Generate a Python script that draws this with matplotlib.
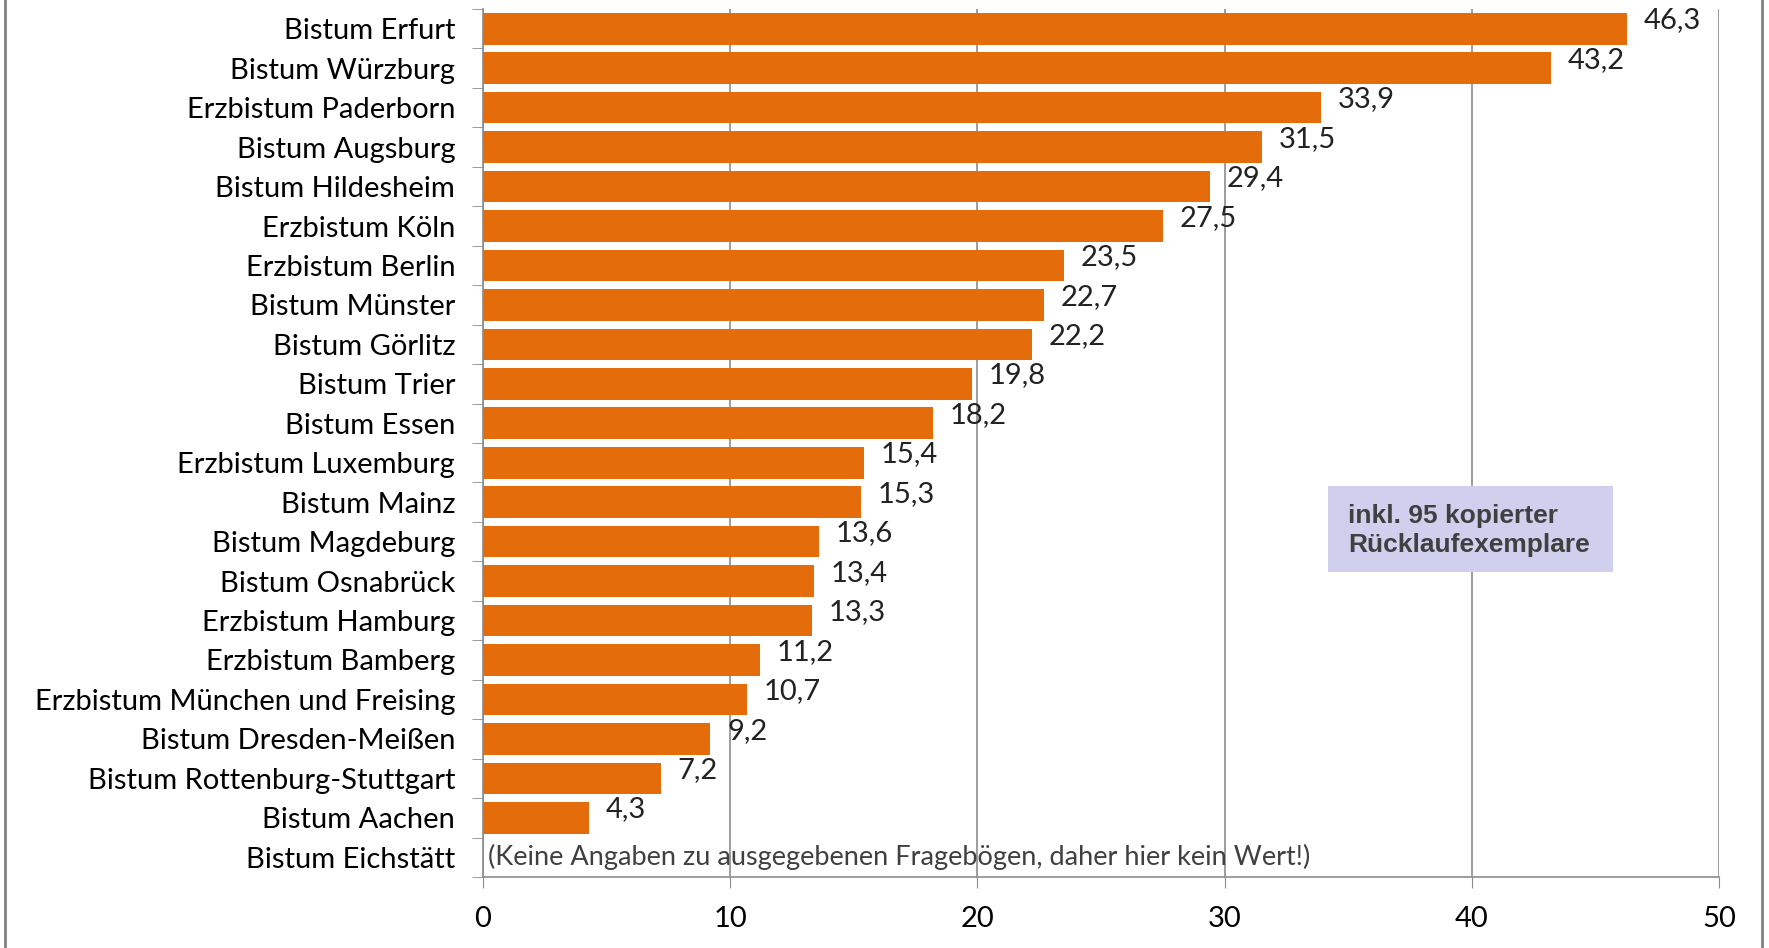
import matplotlib
matplotlib.use("Agg")
from matplotlib import pyplot as plt
from matplotlib.patches import Rectangle
from matplotlib.lines import Line2D
import numpy as np

dioceses = ["Bistum Erfurt", "Bistum Würzburg", "Erzbistum Paderborn", "Bistum Augsburg",
            "Bistum Hildesheim", "Erzbistum Köln", "Erzbistum Berlin", "Bistum Münster",
            "Bistum Görlitz", "Bistum Trier", "Bistum Essen", "Erzbistum Luxemburg",
            "Bistum Mainz", "Bistum Magdeburg", "Bistum Osnabrück", "Erzbistum Hamburg",
            "Erzbistum Bamberg", "Erzbistum München und Freising", "Bistum Dresden-Meißen",
            "Bistum Rottenburg-Stuttgart", "Bistum Aachen", "Bistum Eichstätt"]
values = [46.3, 43.2, 33.9, 31.5, 29.4, 27.5, 23.5, 22.7, 22.2, 19.8, 18.2, 15.4,
          15.3, 13.6, 13.4, 13.3, 11.2, 10.7, 9.2, 7.2, 4.3, None]
x_ticks = [0, 10, 20, 30, 40, 50]
note = "(Keine Angaben zu ausgegebenen Fragebögen, daher hier kein Wert!)"
box_text = "inkl. 95 kopierter\nRücklaufexemplare"

font = "Lato"
fs = 21
grid_col = "#8c8c8c"

fig = plt.figure(figsize=(17.69, 9.48), dpi=100)
ax = fig.add_axes([0.2730, 0.0749, 0.6987, 0.9156])

n = len(dioceses)
y = np.arange(n)
for i, (name, v) in enumerate(zip(dioceses, values)):
    if v is None:
        continue
    ax.barh(i, v, height=0.8, color="#E46C0A", zorder=3)
    ax.annotate(f"{v:.1f}".replace(".", ","), (v, i), xytext=(12, 6),
                textcoords="offset points", ha="left", va="center",
                fontsize=fs, family=font, color="#222222", zorder=4)

ax.text(0.2, n - 1, note, ha="left", va="center", fontsize=19.5, family=font,
        color="#404040", zorder=4)

ax.set_xlim(0, 50)
ax.set_ylim(n - 0.5, -0.5)
ax.set_xticks(x_ticks)
ax.set_xticklabels([str(t) for t in x_ticks], fontsize=fs, family=font)
ax.set_yticks(y)
ax.set_yticklabels(dioceses, fontsize=fs, family=font)
ax.set_yticks(np.arange(n + 1) - 0.5, minor=True)
ax.tick_params(axis="y", which="major", length=0, pad=20)
ax.tick_params(axis="y", which="minor", length=8, color=grid_col, direction="out")
ax.tick_params(axis="x", length=8, color=grid_col, pad=13)
ax.grid(axis="x", color=grid_col, linewidth=1.2, zorder=0)
for s in ["top", "right"]:
    ax.spines[s].set_visible(False)
for s in ["left", "bottom"]:
    ax.spines[s].set_color(grid_col)
    ax.spines[s].set_linewidth(1.2)

# note box
ax.add_patch(Rectangle((34.2, 11.6), 11.5, 2.17, facecolor="#D0D0EE", edgecolor="none", zorder=5))
ax.text(35.0, 12.72, box_text, ha="left", va="center", fontsize=19, fontweight="bold",
        family="Liberation Sans", color="#404040", linespacing=1.25, zorder=6)

# frame lines at the figure edges
fig.add_artist(Line2D([0.003, 0.003], [0, 1], color="#808080", linewidth=2))
fig.add_artist(Line2D([0.996, 0.996], [0, 1], color="#808080", linewidth=2))

fig.savefig("out.png", dpi=100)
